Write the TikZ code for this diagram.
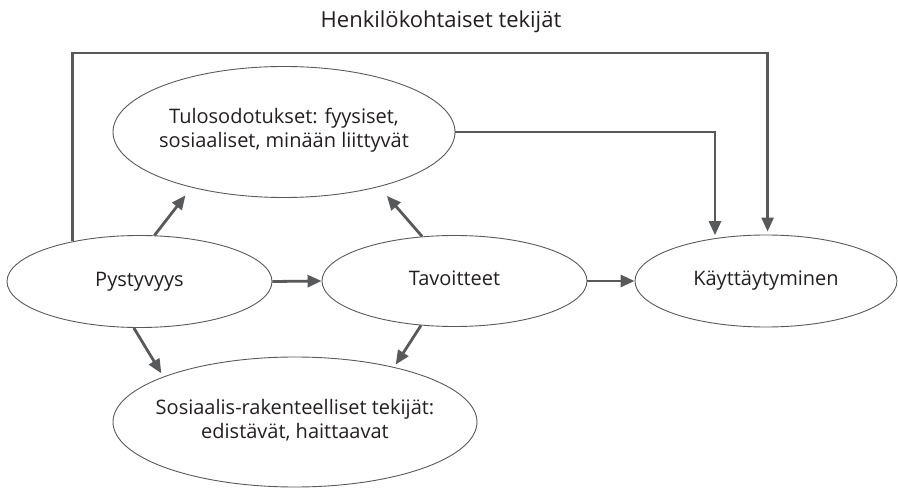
\documentclass[tikz,border=0pt]{standalone}
\usepackage{fontspec}
\setmainfont{Open Sans}
\usetikzlibrary{shapes.geometric,arrows.meta}
\definecolor{linegray}{HTML}{58595B}
\definecolor{textgray}{HTML}{231F20}
\begin{document}
\begin{tikzpicture}[x=1pt,y=-1pt,
  oval/.style={ellipse, draw=linegray, line width=0.9pt, inner sep=0pt},
  txt/.style={align=center, font=\fontsize{20}{24}\selectfont, text=textgray,
    inner sep=0pt},
  oneline/.style={txt, text height=14pt, text depth=4pt},
  twoline/.style={txt, yshift=2pt},
  conn/.style={draw=linegray, line width=2.8pt,
    -{Triangle[length=14pt,width=12pt]}}]
\useasboundingbox (0,0) rectangle (898,489);

% ellipses, each with its text laid over the centre
\node[oval, minimum width=342pt, minimum height=131pt,
  label={[twoline]center:Tulosodotukset: fyysiset,\\sosiaaliset, minään liittyvät}]
  (tulo) at (284,132) {};
\node[oval, minimum width=265pt, minimum height=92pt,
  label={[oneline]center:Pystyvyys}] (pys) at (139.5,281.5) {};
\node[oval, minimum width=265pt, minimum height=91pt,
  label={[oneline]center:Tavoitteet}] (tav) at (454.5,281) {};
\node[oval, minimum width=262pt, minimum height=92pt,
  label={[oneline]center:Käyttäytyminen}] (kay) at (766,281) {};
\node[oval, minimum width=364pt, minimum height=130pt,
  label={[twoline]center:Sosiaalis-rakenteelliset tekijät:\\edistävät, haittaavat}]
  (sos) at (295,422) {};

% title of the feedback line
\node[font=\fontsize{22}{26}\selectfont, text=textgray] (hk) at (441,22)
  {Henkilökohtaiset tekijät};
\coordinate (top) at (0,53);

% connectors
\draw[conn] (pys.east) -- (tav.west);
\draw[conn] (tav.east) -- (kay.west);
\draw[conn, shorten >=10pt] (pys.72) -- (tulo.211);
\draw[conn, shorten >=12pt] (tav.126) -- (tulo.330);
\draw[conn, shorten >=4pt] (pys.263) -- (sos.161);
\draw[conn, shorten >=3pt] (tav.233) -- (sos.29);
\draw[conn, shorten >=3pt] (tulo.east) -| (kay.140);
\draw[conn, shorten >=3pt] (pys.149) -- (pys.149 |- top) -| (kay.88);
\end{tikzpicture}
\end{document}
